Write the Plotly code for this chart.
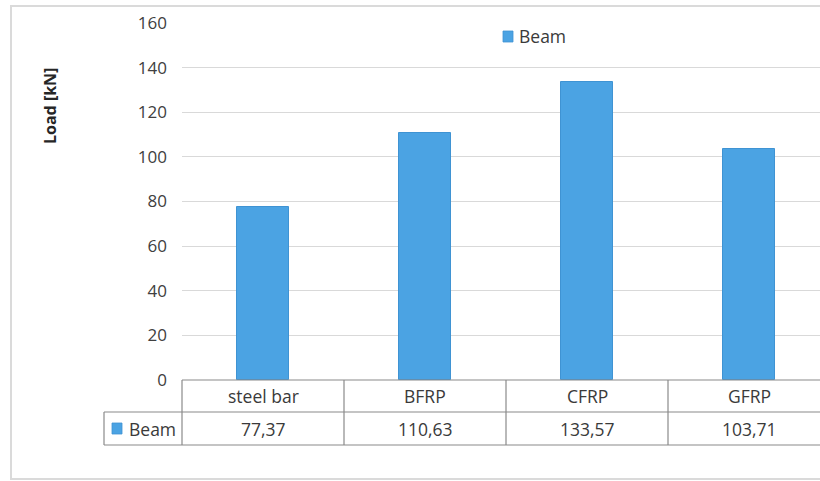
import plotly.graph_objects as go

# Data
categories = ["steel bar", "BFRP", "CFRP", "GFRP"]
beam_load = [77.37, 110.63, 133.57, 103.71]
series_name = "Beam"
y_ticks = [0, 20, 40, 60, 80, 100, 120, 140, 160]

# Styling
BAR_COLOR = "#4BA3E3"
BAR_EDGE = "#3F93D3"
GRID = "#D9D9D9"
TABLE_LINE = "#8A8A8A"
TEXT = "#3A3A3A"
FONT = "Open Sans"

W, H = 820, 481
M_L, M_R, M_T, M_B = 182, 0, 23, 101
plot_w = W - M_L - M_R
plot_h = H - M_T - M_B

# Each category slot is 162 px; the last slot runs a little past the right edge
slot_px = 162.0
x_lo = -0.5
x_hi = x_lo + plot_w / slot_px


def px_to_paper_x(px):
    return (px - M_L) / plot_w


def px_to_paper_y(py):
    return (H - M_B - py) / plot_h


def cat_to_paper_x(c):
    return (c - x_lo) / (x_hi - x_lo)


fig = go.Figure()
fig.add_trace(go.Bar(
    x=list(range(len(categories))),
    y=beam_load,
    name=series_name,
    width=0.315,
    marker=dict(color=BAR_COLOR, line=dict(color=BAR_EDGE, width=1)),
    showlegend=False,
))

# Data table under the plot area
row1_top = px_to_paper_y(380)
row1_bot = px_to_paper_y(412)
row2_bot = px_to_paper_y(445)
key_left = px_to_paper_x(104)

shapes = []
line_style = dict(color=TABLE_LINE, width=1.2)
# horizontal rules
shapes.append(dict(type="line", xref="paper", yref="paper",
                   x0=0, x1=1, y0=row1_top, y1=row1_top, line=line_style))
for yy in (row1_bot, row2_bot):
    shapes.append(dict(type="line", xref="paper", yref="paper",
                       x0=key_left, x1=1, y0=yy, y1=yy, line=line_style))
# vertical rules between categories
for i in range(len(categories) + 1):
    xp = cat_to_paper_x(i - 0.5)
    if xp <= 1.0:
        shapes.append(dict(type="line", xref="paper", yref="paper",
                           x0=xp, x1=xp, y0=row1_top, y1=row2_bot, line=line_style))
shapes.append(dict(type="line", xref="paper", yref="paper",
                   x0=key_left, x1=key_left, y0=row1_bot, y1=row2_bot, line=line_style))


def key_square(x0_px, y0_px):
    return dict(type="rect", xref="paper", yref="paper",
                x0=px_to_paper_x(x0_px), x1=px_to_paper_x(x0_px + 10),
                y0=px_to_paper_y(y0_px + 11), y1=px_to_paper_y(y0_px),
                fillcolor=BAR_COLOR, line=dict(color=BAR_EDGE, width=0.8))


# legend keys: one inside the table, one at the top of the plot
shapes.append(key_square(112, 423))
shapes.append(key_square(503, 31))
# chart frame
shapes.append(dict(type="rect", xref="paper", yref="paper",
                   x0=px_to_paper_x(11), x1=px_to_paper_x(840),
                   y0=px_to_paper_y(479), y1=px_to_paper_y(6),
                   line=dict(color="#DADADA", width=2), fillcolor="rgba(0,0,0,0)"))

annotations = []
row1_mid = (row1_top + row1_bot) / 2
row2_mid = (row1_bot + row2_bot) / 2
table_font = dict(family=FONT, size=17.5, color=TEXT)
for i, (cat, val) in enumerate(zip(categories, beam_load)):
    xp = cat_to_paper_x(i)
    annotations.append(dict(x=xp, y=row1_mid, xref="paper", yref="paper",
                            xanchor="center", yanchor="middle",
                            text=cat, showarrow=False, font=table_font))
    annotations.append(dict(x=xp, y=row2_mid, xref="paper", yref="paper",
                            xanchor="center", yanchor="middle",
                            text=f"{val:.2f}".replace(".", ","), showarrow=False,
                            font=table_font))
annotations.append(dict(x=px_to_paper_x(127), y=row2_mid, xref="paper", yref="paper",
                        xanchor="left", yanchor="middle",
                        text=series_name, showarrow=False, font=table_font))
annotations.append(dict(x=px_to_paper_x(517), y=px_to_paper_y(36.5), xref="paper", yref="paper",
                        xanchor="left", yanchor="middle",
                        text=series_name, showarrow=False, font=table_font))
# axis title
annotations.append(dict(x=px_to_paper_x(50), y=px_to_paper_y(106), xref="paper", yref="paper",
                        xanchor="center", yanchor="middle",
                        text="<b>Load [kN]</b>", showarrow=False, textangle=-90,
                        font=dict(family=FONT, size=16, color="#262626")))

fig.update_layout(
    width=W, height=H,
    margin=dict(l=M_L, r=M_R, t=M_T, b=M_B, pad=0),
    paper_bgcolor="white", plot_bgcolor="white",
    font=dict(family=FONT, size=17, color=TEXT),
    bargap=0,
    showlegend=False,
    xaxis=dict(range=[x_lo, x_hi], showticklabels=False, showgrid=False,
               zeroline=False, showline=False, ticks=""),
    yaxis=dict(range=[0, 160], tickvals=y_ticks, showgrid=True, gridcolor=GRID,
               gridwidth=1, zeroline=False, showline=False, ticks="",
               ticklabelstandoff=14,
               tickfont=dict(family=FONT, size=17, color="#404040")),
    shapes=shapes,
    annotations=annotations,
)

fig.write_html("out.html")
